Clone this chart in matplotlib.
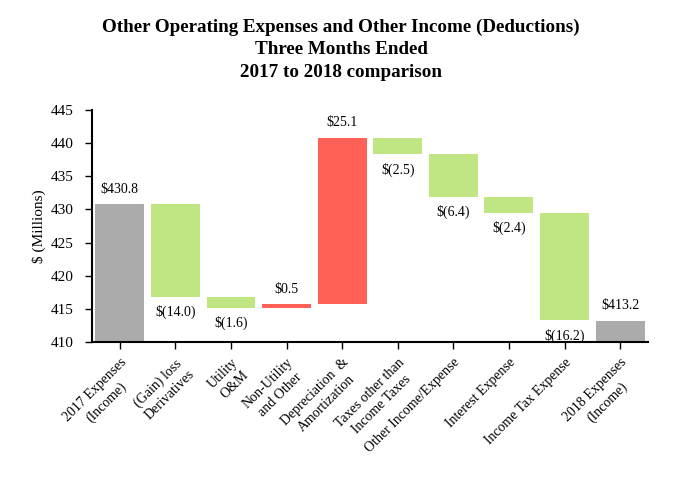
import matplotlib
matplotlib.use("Agg")
import matplotlib.pyplot as plt

categories = ["2017 Expenses\n(Income)", "(Gain) loss\nDerivatives", "Utility\nO&M",
              "Non-Utility\nand Other", "Depreciation  &\nAmortization",
              "Taxes other than\nIncome Taxes", "Other Income/Expense",
              "Interest Expense", "Income Tax Expense", "2018 Expenses\n(Income)"]
start_total = 430.8
changes = [-14.0, -1.6, 0.5, 25.1, -2.5, -6.4, -2.4, -16.2]
end_total = 413.2
value_labels = ["$430.8", "$(14.0)", "$(1.6)", "$0.5", "$25.1", "$(2.5)",
                "$(6.4)", "$(2.4)", "$(16.2)", "$413.2"]

plt.rcParams['font.family'] = ['Liberation Serif', 'DejaVu Serif']

fig = plt.figure(figsize=(6.82, 4.80), dpi=100)
ax = fig.add_axes([0.135, 0.2875, 0.815, 0.4835])

ymin = 410
gray = "#ababab"
green = "#bfe683"
red = "#ff6156"
w = 0.88

bottoms, heights, colors = [], [], []
bottoms.append(ymin); heights.append(start_total - ymin); colors.append(gray)
level = start_total
for c in changes:
    new = level + c
    bottoms.append(min(level, new)); heights.append(abs(c))
    colors.append(green if c < 0 else red)
    level = new
bottoms.append(ymin); heights.append(end_total - ymin); colors.append(gray)

x = list(range(len(categories)))
ax.bar(x, heights, bottom=bottoms, width=w, color=colors, edgecolor='none')

vals = [start_total] + changes + [end_total]
for i, (b, h, v, lab) in enumerate(zip(bottoms, heights, vals, value_labels)):
    if v >= 0:
        ax.annotate(lab, (i, b + h), xytext=(0, 6), textcoords='offset points',
                    ha='center', va='bottom', fontsize=10)
    else:
        ax.annotate(lab, (i, b), xytext=(0, -6), textcoords='offset points',
                    ha='center', va='top', fontsize=10)

ax.set_xlim(-0.5, 9.5)
ax.set_ylim(410, 445)
ax.set_yticks(range(410, 446, 5))
ax.set_xticks(x)
ax.set_xticklabels(categories, rotation=45, ha='right', rotation_mode='anchor',
                   multialignment='center', fontsize=10, linespacing=1.35)
ax.tick_params(axis='both', length=5, width=1)
ax.tick_params(axis='y', labelsize=11, pad=8)
ax.tick_params(axis='x', pad=5)
for s in ['top', 'right']:
    ax.spines[s].set_visible(False)
for s in ['left', 'bottom']:
    ax.spines[s].set_linewidth(1.5)
ax.set_ylabel("$ (Millions)", fontsize=11, labelpad=4)

fig.suptitle("Other Operating Expenses and Other Income (Deductions)\nThree Months Ended\n2017 to 2018 comparison",
             fontsize=13.7, fontweight='bold', y=0.962, linespacing=1.45)

fig.savefig("out.png", dpi=100)
